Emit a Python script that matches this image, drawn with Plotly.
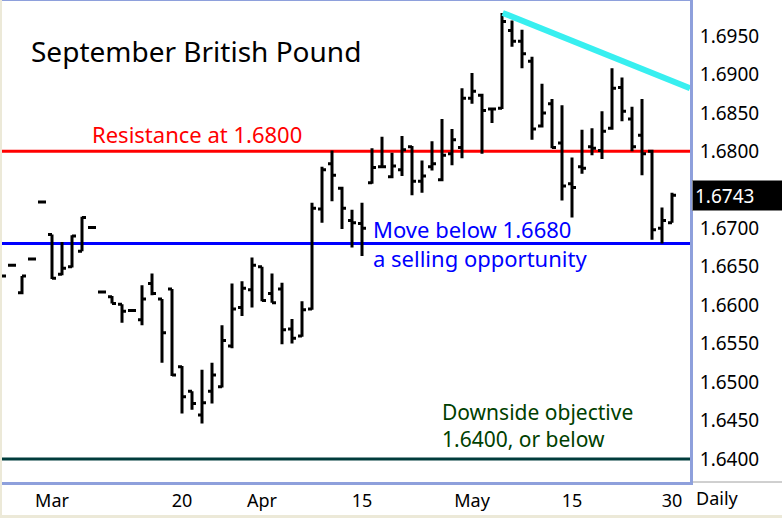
import plotly.graph_objects as go

# daily bars, late Feb to end of May (holidays skipped)
dates = [
    "2014-02-24", "2014-02-25", "2014-02-26", "2014-02-27", "2014-02-28",
    "2014-03-03", "2014-03-04", "2014-03-05", "2014-03-06", "2014-03-07",
    "2014-03-10", "2014-03-11", "2014-03-12", "2014-03-13", "2014-03-14",
    "2014-03-17", "2014-03-18", "2014-03-19", "2014-03-20", "2014-03-21",
    "2014-03-24", "2014-03-25", "2014-03-26", "2014-03-27", "2014-03-28",
    "2014-03-31", "2014-04-01", "2014-04-02", "2014-04-03", "2014-04-04",
    "2014-04-07", "2014-04-08", "2014-04-09", "2014-04-10", "2014-04-11",
    "2014-04-14", "2014-04-15", "2014-04-16", "2014-04-17",
    "2014-04-21", "2014-04-22", "2014-04-23", "2014-04-24", "2014-04-25",
    "2014-04-28", "2014-04-29", "2014-04-30", "2014-05-01", "2014-05-02",
    "2014-05-05", "2014-05-06", "2014-05-07", "2014-05-08", "2014-05-09",
    "2014-05-12", "2014-05-13", "2014-05-14", "2014-05-15", "2014-05-16",
    "2014-05-19", "2014-05-20", "2014-05-21", "2014-05-22", "2014-05-23",
    "2014-05-27", "2014-05-28", "2014-05-29", "2014-05-30",
]
opens = [
    1.6638, 1.6652, 1.6616, 1.6660, 1.6734,
    1.6692, 1.6640, 1.6650, 1.6670, 1.6701,
    1.6617, 1.6611, 1.6601, 1.6593, 1.6581,
    1.6628, 1.6608, 1.6621, 1.6520, 1.6488,
    1.6457, 1.6488, 1.6494, 1.6547, 1.6597,
    1.6620, 1.6650, 1.6615, 1.6621, 1.6569,
    1.6560, 1.6595, 1.6725, 1.6784, 1.6752,
    1.6710, 1.6706, 1.6759, 1.6780,
    1.6767, 1.6776, 1.6806, 1.6761, 1.6780,
    1.6763, 1.6797, 1.6805, 1.6869, 1.6873,
    1.6855, 1.6856, 1.6957, 1.6943, 1.6917,
    1.6833, 1.6862, 1.6811, 1.6758, 1.6780,
    1.6806, 1.6801, 1.6830, 1.6883, 1.6842,
    1.6821, 1.6800, 1.6700, 1.6707,
]
highs = [
    1.6638, 1.6652, 1.6638, 1.6660, 1.6734,
    1.6692, 1.6682, 1.6691, 1.6715, 1.6701,
    1.6617, 1.6612, 1.6601, 1.6593, 1.6626,
    1.6641, 1.6608, 1.6621, 1.6521, 1.6488,
    1.6516, 1.6525, 1.6574, 1.6628, 1.6631,
    1.6662, 1.6650, 1.6641, 1.6629, 1.6582,
    1.6605, 1.6733, 1.6780, 1.6801, 1.6754,
    1.6724, 1.6733, 1.6804, 1.6819,
    1.6798, 1.6820, 1.6807, 1.6788, 1.6813,
    1.6842, 1.6829, 1.6882, 1.6902, 1.6875,
    1.6856, 1.6980, 1.6970, 1.6958, 1.6923,
    1.6888, 1.6868, 1.6860, 1.6792, 1.6828,
    1.6830, 1.6852, 1.6908, 1.6896, 1.6858,
    1.6868, 1.6802, 1.6727, 1.6746,
]
lows = [
    1.6638, 1.6652, 1.6614, 1.6660, 1.6734,
    1.6634, 1.6639, 1.6649, 1.6670, 1.6701,
    1.6617, 1.6602, 1.6577, 1.6593, 1.6574,
    1.6613, 1.6525, 1.6508, 1.6459, 1.6464,
    1.6446, 1.6472, 1.6493, 1.6544, 1.6586,
    1.6597, 1.6605, 1.6603, 1.6549, 1.6550,
    1.6559, 1.6594, 1.6707, 1.6735, 1.6699,
    1.6675, 1.6664, 1.6758, 1.6778,
    1.6765, 1.6768, 1.6743, 1.6746, 1.6775,
    1.6761, 1.6782, 1.6791, 1.6862, 1.6797,
    1.6837, 1.6855, 1.6936, 1.6908, 1.6815,
    1.6831, 1.6804, 1.6736, 1.6714, 1.6771,
    1.6795, 1.6790, 1.6828, 1.6839, 1.6800,
    1.6769, 1.6685, 1.6680, 1.6707,
]
closes = [
    1.6638, 1.6652, 1.6638, 1.6660, 1.6734,
    1.6635, 1.6648, 1.6690, 1.6714, 1.6701,
    1.6617, 1.6602, 1.6592, 1.6593, 1.6608,
    1.6615, 1.6564, 1.6509, 1.6481, 1.6472,
    1.6473, 1.6509, 1.6554, 1.6595, 1.6622,
    1.6652, 1.6606, 1.6603, 1.6568, 1.6557,
    1.6594, 1.6726, 1.6776, 1.6769, 1.6726,
    1.6707, 1.6700, 1.6779, 1.6780,
    1.6781, 1.6802, 1.6761, 1.6768, 1.6784,
    1.6795, 1.6815, 1.6869, 1.6878, 1.6853,
    1.6855, 1.6969, 1.6943, 1.6927, 1.6829,
    1.6850, 1.6805, 1.6755, 1.6753, 1.6778,
    1.6804, 1.6826, 1.6882, 1.6852, 1.6806,
    1.6797, 1.6698, 1.6710, 1.6743,
]

x_tick_dates = ["2014-03-03", "2014-03-20", "2014-04-01", "2014-04-15",
                "2014-05-01", "2014-05-15", "2014-05-30"]
x_tick_text = ["Mar", "20", "Apr", "15", "May", "15", "30"]
y_ticks = [1.6400, 1.6450, 1.6500, 1.6550, 1.6600, 1.6650,
           1.6700, 1.6800, 1.6850, 1.6900, 1.6950]

resistance = 1.6800
sell_level = 1.6680
objective = 1.6400
# down trendline from the May 6 high (category index, price)
trend_x = [50.07, 68.8]
trend_y = [1.6980, 1.68822]

BORDER = "#8EA0DC"
FONT = "Noto Sans"

fig = go.Figure(go.Ohlc(
    x=dates, open=opens, high=highs, low=lows, close=closes,
    increasing=dict(line=dict(color="black", width=3)),
    decreasing=dict(line=dict(color="black", width=3)),
    tickwidth=0.4,
    hoverinfo="skip",
))

# horizontal levels
for level, color in [(resistance, "#FF0000"), (sell_level, "#0000FF"), (objective, "#003C3C")]:
    fig.add_shape(type="line", xref="paper", x0=0, x1=1, yref="y", y0=level, y1=level,
                  line=dict(color=color, width=3), layer="below")

fig.add_shape(type="line", xref="x", yref="y",
              x0=trend_x[0], x1=trend_x[1], y0=trend_y[0], y1=trend_y[1],
              line=dict(color="#38EFF0", width=6))

# window chrome
fig.add_shape(type="rect", xref="paper", yref="paper", x0=-2 / 688, x1=0, y0=-0.08, y1=1.01,
              fillcolor="#ECE9D8", line=dict(width=0))
fig.add_shape(type="rect", xref="paper", yref="paper", x0=-0.01, x1=1.14, y0=-0.0748, y1=-0.0686,
              fillcolor="#ECE9D8", line=dict(width=0))
fig.add_shape(type="line", xref="paper", yref="paper", x0=1.004, x1=1.14, y0=0, y1=0,
              line=dict(color="#A0A0A0", width=1))

fig.add_annotation(text="September British Pound", xref="paper", yref="paper",
                   x=0.0392, y=0.8952, xanchor="left", yanchor="middle", showarrow=False,
                   font=dict(family=FONT, size=28, color="black"))
fig.add_annotation(text="Resistance at 1.6800", xref="paper", yref="y",
                   x=0.1279, y=1.68213, xanchor="left", yanchor="middle", yshift=1,
                   showarrow=False, font=dict(family=FONT, size=22, color="#FF0000"))
fig.add_annotation(text="Move below 1.6680<br>a selling opportunity", xref="paper", yref="y",
                   x=0.5363, y=1.66784, xanchor="left", yanchor="middle", yshift=1,
                   showarrow=False, align="left",
                   font=dict(family=FONT, size=22, color="#0000FF"))
fig.add_annotation(text="Downside objective<br>1.6400, or below", xref="paper", yref="y",
                   x=0.6366, y=1.64438, xanchor="left", yanchor="middle", showarrow=False,
                   align="left", font=dict(family=FONT, size=21, color="#004000"))

# last price box on the axis
fig.add_annotation(text=f"{closes[-1]:.4f}", xref="paper", yref="y",
                   x=1, y=closes[-1], xanchor="left", yanchor="middle", xshift=2,
                   showarrow=False, align="left", width=110, height=25, borderpad=2,
                   bgcolor="black", bordercolor="#808080", borderwidth=1,
                   font=dict(family=FONT, size=19, color="white"))
fig.add_annotation(text="Daily", xref="paper", yref="paper", x=1, y=0,
                   xanchor="left", yanchor="top", xshift=4, yshift=-2, showarrow=False,
                   font=dict(family=FONT, size=18, color="black"))

fig.update_layout(
    width=782, height=518,
    margin=dict(l=2, r=92, t=1, b=36, autoexpand=False),
    paper_bgcolor="white", plot_bgcolor="white",
    showlegend=False,
    font=dict(family=FONT, size=18, color="black"),
    xaxis=dict(type="category", range=[0, 68.8], tickvals=x_tick_dates, ticktext=x_tick_text,
               showgrid=False, showline=True, mirror=True, linecolor=BORDER, linewidth=3,
               ticks="", rangeslider=dict(visible=False), tickfont=dict(size=18)),
    yaxis=dict(side="right", range=[1.6370, 1.69955], tickvals=y_ticks,
               ticktext=[f"{v:.4f}" for v in y_ticks],
               showgrid=False, zeroline=False, showline=True, linecolor=BORDER, linewidth=3,
               ticks="", ticklabelstandoff=3, tickfont=dict(size=19)),
)

# drop the page's default body margin so the 782x518 figure fills the window
fig.write_html("out.html", config={"displayModeBar": False},
               post_script="document.body.style.margin='0';")
